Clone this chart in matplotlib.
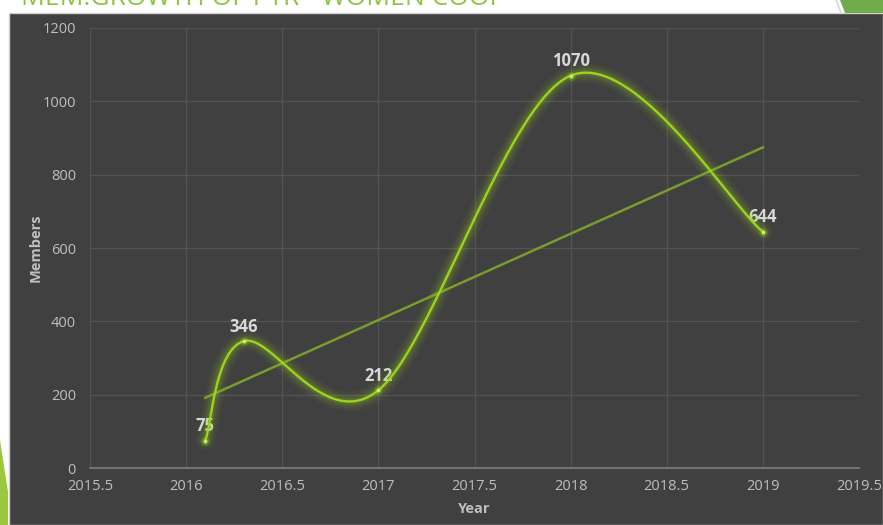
import numpy as np
import matplotlib
matplotlib.use("Agg")
import matplotlib.pyplot as plt
from matplotlib.patches import Polygon, Rectangle

years = [2016.1, 2016.3, 2017, 2018, 2019]
members = [75, 346, 212, 1070, 644]
title = "MEM.GROWTH OF PTR - WOMEN COOP"

W, H = 883, 525
BG = "#404040"
LINE = "#9bd41c"
TREND = "#7a9c2c"
TXT = "#bfbfbf"


def px(x, y):
    # pixel coords (top-left origin) -> figure fraction
    return (x / W, 1 - y / H)


def smooth(xs, ys, n=60):
    # Catmull-Rom style bezier like a spreadsheet "smoothed line"
    pts = np.column_stack([xs, ys]).astype(float)
    ext = np.vstack([pts[0], pts, pts[-1]])
    out = []
    for i in range(len(pts) - 1):
        p0, p1 = ext[i + 1], ext[i + 2]
        c1 = p0 + (ext[i + 2] - ext[i]) / 6
        c2 = p1 - (ext[i + 3] - ext[i + 1]) / 6
        t = np.linspace(0, 1, n)[:, None]
        seg = ((1 - t) ** 3) * p0 + 3 * ((1 - t) ** 2) * t * c1 \
            + 3 * (1 - t) * t ** 2 * c2 + t ** 3 * p1
        out.append(seg if i == 0 else seg[1:])
    out = np.vstack(out)
    return out[:, 0], out[:, 1]


plt.rcParams["font.family"] = ["Open Sans", "DejaVu Sans"]

fig = plt.figure(figsize=(W / 100, H / 100), dpi=100, facecolor="white")

# slide background and decorations
x0 = 9 / W
fig.patches.append(Rectangle((x0, 0), 1 - x0, 1 - 13 / H, transform=fig.transFigure,
                             facecolor=BG, edgecolor="#d0d0d0", lw=1, zorder=-5))
fig.patches.append(Polygon([px(0, 440), px(8, 492), px(8, 525), px(0, 525)], closed=True,
                           transform=fig.transFigure, facecolor="#9dc73f", lw=0, zorder=-4))
fig.patches.append(Polygon([px(840, 0), px(845, 13), px(883, 13), px(883, 0)], closed=True,
                           transform=fig.transFigure, facecolor="#6fab4a", lw=0, zorder=-4))
fig.lines.append(plt.Line2D(*zip(px(836, 0), px(841, 13)), transform=fig.transFigure,
                            color="#d8d8d8", lw=1.2, zorder=-4))
fig.text(21 / W, 1 - 5 / H, title, color="#8dc63f", fontsize=19, va="baseline", ha="left")

l, r = 90 / W, 859 / W
b, t = 1 - 468 / H, 1 - 28 / H
ax = fig.add_axes([l, b, r - l, t - b])
ax.set_zorder(2)
ax.set_facecolor(BG)

ax.set_xlim(2015.5, 2019.5)
ax.set_ylim(0, 1200)
ax.set_xticks(np.arange(2015.5, 2019.51, 0.5))
ax.set_xticklabels(["2015.5", "2016", "2016.5", "2017", "2017.5", "2018", "2018.5", "2019", "2019.5"])
ax.set_yticks(np.arange(0, 1201, 200))
ax.grid(True, color="#545454", lw=0.9)
ax.set_axisbelow(True)
for s in ["top", "right", "left"]:
    ax.spines[s].set_visible(False)
ax.spines["bottom"].set_color("#7f7f7f")
ax.spines["bottom"].set_linewidth(1.2)
ax.tick_params(length=0, colors=TXT, labelsize=10.5)
ax.tick_params(axis="y", pad=10)
ax.tick_params(axis="x", pad=8)

ax.set_xlabel("Year", color=TXT, fontsize=10.5, fontweight="bold", labelpad=6)
ax.set_ylabel("Members", color=TXT, fontsize=10.5, fontweight="bold", labelpad=0)

# linear trendline
k, c = np.polyfit(years, members, 1)
tx = np.array([years[0], years[-1]])
ax.plot(tx, k * tx + c, color=TREND, lw=1.8, zorder=3)

# smoothed series with glow
sx, sy = smooth(years, members)
for lw, a in [(14, 0.05), (10, 0.07), (7, 0.09), (4.5, 0.12)]:
    ax.plot(sx, sy, color="#9bd41c", lw=lw, alpha=a, solid_capstyle="round", zorder=4)
ax.plot(sx, sy, color=LINE, lw=1.7, zorder=5)
ax.scatter(years, members, s=40, color="#9bd41c", alpha=0.25, lw=0, zorder=5)
ax.scatter(years, members, s=8, color="#c6f06a", lw=0, zorder=6)

for x, y in zip(years, members):
    ax.annotate(str(y), (x, y), xytext=(0, 4), textcoords="offset points",
                ha="center", va="bottom", color="#d9d9d9", fontsize=12, fontweight="bold")

fig.savefig("out.png", dpi=100, facecolor="white")
